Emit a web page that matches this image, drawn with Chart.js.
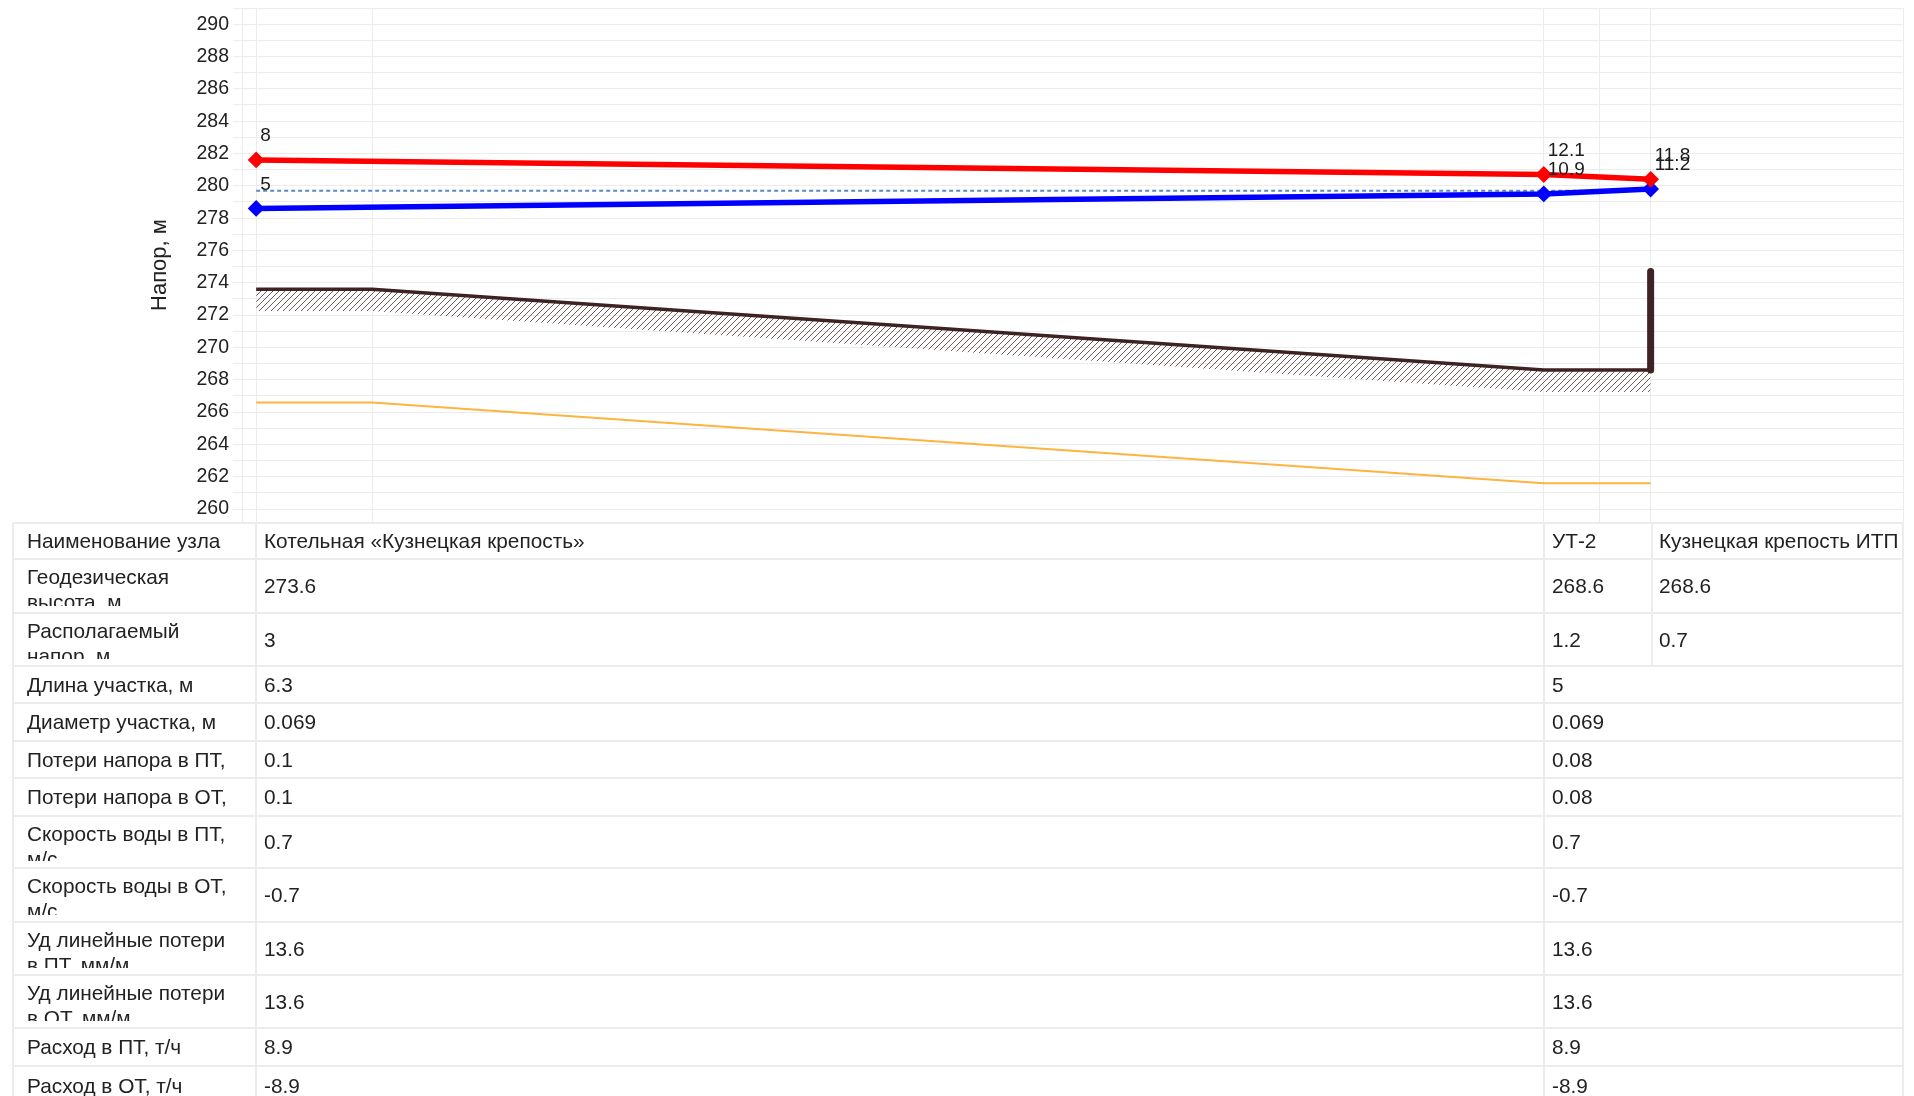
<!DOCTYPE html>
<html lang="ru">
<head>
<meta charset="utf-8">
<title>Пьезометрический график</title>
<script src="https://cdn.jsdelivr.net/npm/chart.js@4.4.1/dist/chart.umd.min.js"></script>
<style>
  html, body { margin:0; padding:0; background:#fff; width:1914px; height:1096px; overflow:hidden;
    font-family:"Liberation Sans", Arial, sans-serif; }
  #chartBox { position:absolute; left:0; top:0; width:1914px; height:524px; }
  #tbl { position:absolute; left:0; top:0; width:1914px; height:1096px; pointer-events:none; }
  .cell { position:absolute; box-sizing:border-box; border-left:2px solid #ececec; border-top:2px solid #ececec;
    display:flex; align-items:center; white-space:nowrap; overflow:hidden; color:#222; font-size:20.8px; }
  .cell.last { border-right:2px solid #ececec; }
  .cell.two { align-items:flex-start; }
  .clip { white-space:pre; line-height:25px; overflow:hidden; }
</style>
</head>
<body>
<div id="chartBox"><canvas id="c" width="1914" height="524"></canvas></div>
<div id="tbl"></div>
<script>
// ---------- data ----------
const nodeNames   = ['Котельная «Кузнецкая крепость»', 'УТ-2', 'Кузнецкая крепость ИТП'];
const nodeX       = [0, 100, 108.3];
const geoHeight   = [273.6, 268.6, 268.6];
const availHead   = [3, 1.2, 0.7];
const supplyHead  = [281.6, 280.7, 280.4];
const returnHead  = [278.6, 279.5, 279.8];
const profileX    = [0, 9, 100, 108.3];
const groundLevel = [273.6, 273.6, 268.6, 268.6];
const pipeLevel   = [266.6, 266.6, 261.6, 261.6];
const staticX     = [0, 108.3];
const staticHead  = [279.7, 279.7];
const buildingX   = [108.3, 108.3];
const buildingLvl = [268.6, 274.7];
const gridX       = [0, 9, 100, 104.3, 108.3];
const yLabelTicks = [260, 262, 264, 266, 268, 270, 272, 274, 276, 278, 280, 282, 284, 286, 288, 290];

const sectionLength   = [6.3, 5];
const sectionDiameter = [0.069, 0.069];
const lossSupply      = [0.1, 0.08];
const lossReturn      = [0.1, 0.08];
const velSupply       = [0.7, 0.7];
const velReturn       = [-0.7, -0.7];
const specLossSupply  = [13.6, 13.6];
const specLossReturn  = [13.6, 13.6];
const flowSupply      = [8.9, 8.9];
const flowReturn      = [-8.9, -8.9];

const nodeRows = [
  ['Наименование узла', nodeNames],
  ['Геодезическая\nвысота, м', geoHeight],
  ['Располагаемый\nнапор, м', availHead]
];
const sectionRows = [
  ['Длина участка, м', sectionLength],
  ['Диаметр участка, м', sectionDiameter],
  ['Потери напора в ПТ,', lossSupply],
  ['Потери напора в ОТ,', lossReturn],
  ['Скорость воды в ПТ,\nм/с', velSupply],
  ['Скорость воды в ОТ,\nм/с', velReturn],
  ['Уд линейные потери\nв ПТ, мм/м', specLossSupply],
  ['Уд линейные потери\nв ОТ, мм/м', specLossReturn],
  ['Расход в ПТ, т/ч', flowSupply],
  ['Расход в ОТ, т/ч', flowReturn]
];

// ---------- helpers ----------
const pts = (xs, ys) => xs.map((x, i) => ({x, y: ys[i]}));
const fmt = v => String(Number(v.toFixed(1)));
const HATCH_DEPTH = 1.35;

const pc = document.createElement('canvas');
pc.width = 6; pc.height = 6;
const pg = pc.getContext('2d');
pg.strokeStyle = '#6e5a5a'; pg.lineWidth = 1;
pg.beginPath();
pg.moveTo(0, 6); pg.lineTo(6, 0);
pg.moveTo(-1, 1); pg.lineTo(1, -1);
pg.moveTo(5, 7); pg.lineTo(7, 5);
pg.stroke();
const hatch = pg.createPattern(pc, 'repeat');

const pointLabels = {
  id: 'pointLabels',
  afterDatasetsDraw(chart) {
    const ctx = chart.ctx;
    ctx.save();
    ctx.font = '19px "Liberation Sans", Arial, sans-serif';
    ctx.fillStyle = '#1c1c1c';
    ctx.textAlign = 'left';
    ctx.textBaseline = 'middle';
    chart.data.datasets.forEach((ds, i) => {
      if (!ds.pointLabels) return;
      chart.getDatasetMeta(i).data.forEach((p, j) => {
        ctx.fillText(ds.pointLabels[j], p.x + 4, p.y - 24);
      });
    });
    ctx.restore();
  }
};

const chart = new Chart(document.getElementById('c'), {
  type: 'line',
  data: {
    datasets: [
      { label: 'Подача', data: pts(nodeX, supplyHead), borderColor: '#ff0000', backgroundColor: '#ff0000',
        borderWidth: 5.5, pointStyle: 'rectRot', pointRadius: 7, pointBorderWidth: 2, order: 1,
        pointLabels: supplyHead.map((v, i) => fmt(v - geoHeight[i])) },
      { label: 'Обратка', data: pts(nodeX, returnHead), borderColor: '#0000ff', backgroundColor: '#0000ff',
        borderWidth: 5.5, pointStyle: 'rectRot', pointRadius: 7, pointBorderWidth: 2, order: 2,
        pointLabels: returnHead.map((v, i) => fmt(v - geoHeight[i])) },
      { label: 'Статика', data: pts(staticX, staticHead), borderColor: '#5b86c9', borderWidth: 2,
        borderDash: [4, 3], pointRadius: 0, order: 3 },
      { label: 'Здание', data: pts(buildingX, buildingLvl), borderColor: '#3e2323', borderWidth: 7,
        borderCapStyle: 'round', pointRadius: 0, order: 4 },
      { label: 'Земля низ', data: pts(profileX, groundLevel.map(v => v - HATCH_DEPTH)), borderWidth: 0,
        borderColor: 'rgba(0,0,0,0)', pointRadius: 0, order: 6 },
      { label: 'Земля', data: pts(profileX, groundLevel), borderColor: '#3e2323', borderWidth: 3.5,
        pointRadius: 0, fill: '-1', backgroundColor: hatch, order: 5 },
      { label: 'Трубопровод', data: pts(profileX, pipeLevel), borderColor: '#ffb340', borderWidth: 2,
        pointRadius: 0, order: 7 }
    ]
  },
  options: {
    responsive: false,
    animation: false,
    events: [],
    layout: { autoPadding: false, padding: { left: 0, right: 11, top: 8, bottom: 2 } },
    plugins: { legend: { display: false }, tooltip: { enabled: false } },
    scales: {
      x: {
        type: 'linear', min: -1.1, max: 127.9,
        afterBuildTicks(s) { s.ticks = gridX.concat([127.9]).map(v => ({value: v})); },
        afterFit(s) { s.height = 0; s.paddingLeft = 0; s.paddingRight = 0; s.paddingTop = 0; s.paddingBottom = 0; },
        ticks: { display: false },
        grid: { color: '#ececec', lineWidth: 1, drawTicks: false },
        border: { display: true, color: '#ececec' }
      },
      y: {
        type: 'linear', min: 259.2, max: 291,
        afterBuildTicks(s) { const t = []; for (let v = 260; v <= 291; v++) t.push({value: v}); s.ticks = t; },
        afterFit(s) { s.width = 242; s.paddingTop = 0; s.paddingBottom = 0; s.paddingLeft = 0; s.paddingRight = 0; },
        ticks: {
          autoSkip: false, padding: 4, color: '#222',
          font: { family: '"Liberation Sans", Arial, sans-serif', size: 19.5 },
          callback: v => yLabelTicks.includes(v) ? String(v) : ''
        },
        grid: { color: '#ececec', lineWidth: 1, tickLength: 9 },
        border: { display: true, color: '#ececec' },
        title: { display: true, text: 'Напор, м', color: '#222', padding: { top: 147, bottom: 0 },
          font: { family: '"Liberation Sans", Arial, sans-serif', size: 22 } }
      }
    }
  },
  plugins: [pointLabels]
});

// ---------- table ----------
const xs = chart.scales.x;
const area = chart.chartArea;
const e0 = 12;
const e1 = Math.round(xs.getPixelForValue(nodeX[0])) - 1;
const e2 = Math.round(xs.getPixelForValue(nodeX[1])) - 1;
const e3 = Math.round(xs.getPixelForValue(nodeX[2]));
const e4 = Math.round(area.right) + 1;
const rowHeights = [36, 54, 53, 37, 38, 37, 38, 52, 54, 53, 53, 38, 40];
const tbl = document.getElementById('tbl');

function addCell(x0, x1, y0, h, text, opts) {
  const d = document.createElement('div');
  d.className = 'cell' + (opts.last ? ' last' : '') + (opts.two ? ' two' : '');
  d.style.left = x0 + 'px'; d.style.top = y0 + 'px';
  d.style.width = (x1 - x0) + 'px'; d.style.height = h + 'px';
  d.style.paddingLeft = opts.pad + 'px';
  if (opts.two) {
    const c = document.createElement('div');
    c.className = 'clip';
    c.style.marginTop = '4px';
    c.style.height = (h - 12) + 'px';
    c.textContent = text;
    d.appendChild(c);
  } else {
    d.textContent = text;
  }
  tbl.appendChild(d);
}

let rowTop = 522;
let r = 0;
nodeRows.forEach(([label, vals]) => {
  const h = rowHeights[r++];
  const two = label.includes('\n');
  addCell(e0, e1, rowTop, h, label, {pad: 13, two});
  addCell(e1, e2, rowTop, h, String(vals[0]), {pad: 7});
  addCell(e2, e3, rowTop, h, String(vals[1]), {pad: 7});
  addCell(e3, e4, rowTop, h, String(vals[2]), {pad: 6, last: true});
  rowTop += h;
});
sectionRows.forEach(([label, vals]) => {
  const h = rowHeights[r++];
  const two = label.includes('\n');
  addCell(e0, e1, rowTop, h, label, {pad: 13, two});
  addCell(e1, e2, rowTop, h, String(vals[0]), {pad: 7});
  addCell(e2, e4, rowTop, h, String(vals[1]), {pad: 7, last: true});
  rowTop += h;
});
</script>
</body>
</html>
